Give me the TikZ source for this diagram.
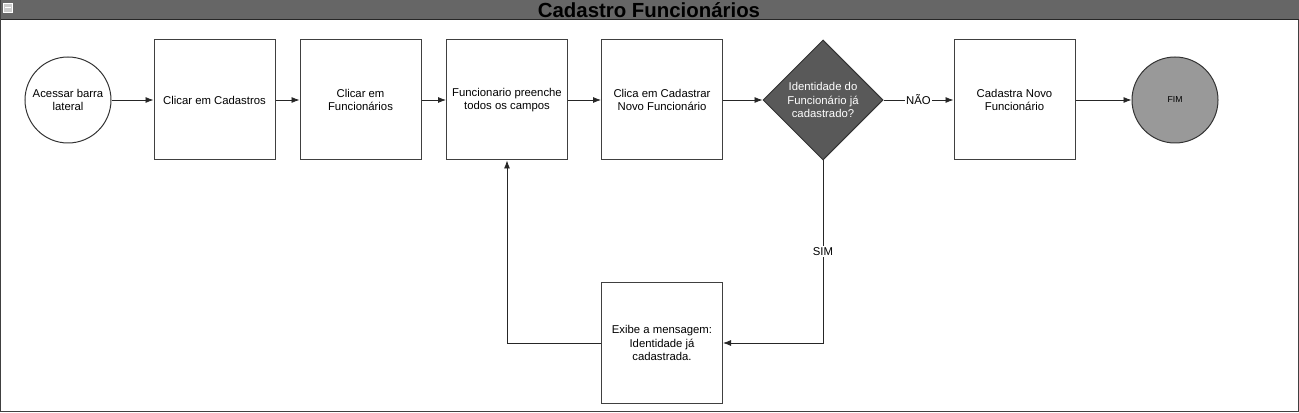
\documentclass[tikz,border=0pt]{standalone}
\usepackage{fontspec}
\setmainfont{Liberation Sans}
\usetikzlibrary{shapes.geometric,arrows.meta}
\definecolor{lanegray}{HTML}{666666}
\definecolor{decisiongray}{HTML}{595959}
\definecolor{endgray}{HTML}{999999}
\begin{document}
\begin{tikzpicture}[
	x=0.75pt, y=-0.75pt,
	txt/.style = {font=\fontsize{8.5}{10.2}\selectfont, align=center},
	main/.style = {txt, draw=black!75, line width=0.75pt, minimum width=90.75pt, minimum height=90pt, inner sep=0pt},
	terminal/.style = {txt, draw=black!80, line width=0.75pt, circle, minimum size=64.5pt, inner sep=0pt},
	decision/.style = {txt, draw=black!80, line width=0.75pt, diamond, aspect=1, fill=decisiongray, text=white, minimum width=90pt, minimum height=90pt, inner sep=0pt},
	flow/.style = {draw=black!85, line width=0.6pt, -{Latex[length=6pt, width=4.5pt]}},
	]
	\useasboundingbox (0,0) rectangle (1299,413);
	% lane
	\draw[draw=black!75] (0.5,0.5) rectangle (1298.5,411.5);
	\fill[lanegray] (0.5,0.5) rectangle (1298.5,19.5);
	\draw[black!85, line width=1pt] (0.5,19.5) -- (1298.5,19.5);
	\node[fill=black!20, draw=white, minimum size=6.75pt, inner sep=0pt] (fold) at (7.5,7.5) {};
	\draw[white, line width=1pt] (4.5,7.5) -- (10.5,7.5);
	\node[font=\fontsize{15.3}{16}\selectfont\bfseries] (title) at (649,10) {Cadastro Funcionários};
	% nodes
	\node[terminal] (start) at (68,100) {Acessar barra\\lateral};
	\node[main] (menu) at (214.5,100) {Clicar em Cadastros};
	\node[main] (employees) at (360.5,100) {Clicar em\\Funcionários};
	\node[main] (fill) at (507,100) {Funcionario preenche\\todos os campos};
	\node[main] (submit) at (662,100) {Clica em Cadastrar\\Novo Funcionário};
	\node[decision] (check) at (823,100) {Identidade do\\Funcionário já\\cadastrado?};
	\node[main] (register) at (1014.5,100) {Cadastra Novo\\Funcionário};
	\node[terminal, fill=endgray, font=\fontsize{6.5}{8}\selectfont] (end) at (1175,100) {FIM};
	\node[main] (message) at (662,343) {Exibe a mensagem:\\Identidade já\\cadastrada.};
	% edges
	\draw[flow] (start) -- (menu);
	\draw[flow] (menu) -- (employees);
	\draw[flow] (employees) -- (fill);
	\draw[flow] (fill) -- (submit);
	\draw[flow] (submit) -- (check);
	\draw[flow] (check) -- node[txt, fill=white, inner sep=1pt] {NÃO} (register);
	\draw[flow] (register) -- (end);
	\draw[flow] (check.south) |- node[txt, fill=white, inner sep=1pt, pos=0.25] {SIM} (message.east);
	\draw[flow] (message.west) -| (fill.south);
\end{tikzpicture}
\end{document}
